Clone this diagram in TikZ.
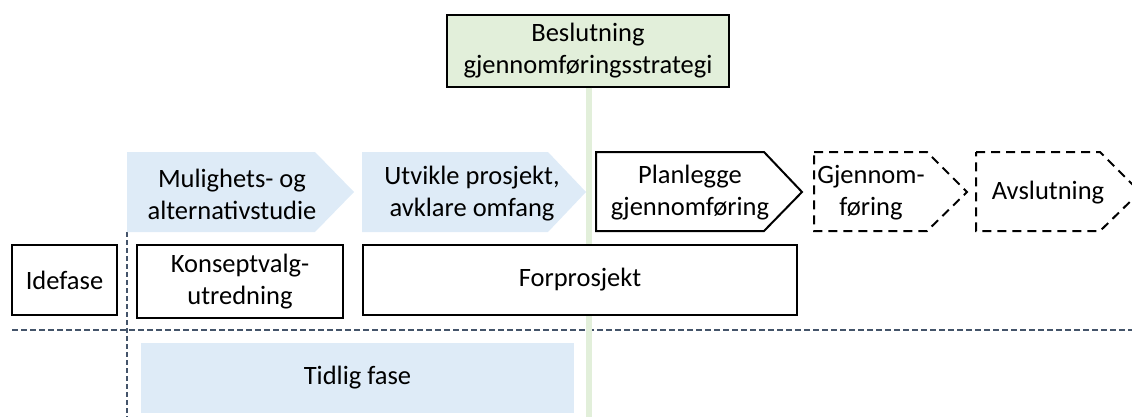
\documentclass[tikz,border=0pt]{standalone}
\usepackage{fontspec}
\setmainfont{Carlito}
\definecolor{phaseblue}{HTML}{DEEBF7}
\definecolor{decgreen}{HTML}{E2EFDA}
\definecolor{slate}{HTML}{44546A}
\tikzset{
  every node/.style={font=\fontsize{26.5}{32}\selectfont, align=center, inner sep=0pt},
  boxline/.style={draw=black, line width=2pt},
  dashline/.style={draw=black, line width=2pt, dash pattern=on 9pt off 6pt},
  phasefill/.style={fill=phaseblue},
  divider/.style={draw=slate, line width=2pt, dash pattern=on 6pt off 3pt},
}
\begin{document}
\begin{tikzpicture}[x=1pt, y=-1pt]
\useasboundingbox (0,0) rectangle (1132,417);

% dashed separator between phases and the early-phase band
\draw[divider] (12,330) -- (1132,330);
\draw[divider, line width=1.6pt, dash pattern=on 5pt off 3pt] (127,232) -- (127,417);

% decision milestone and its vertical marker
\node[boxline, fill=decgreen, minimum width=282pt, minimum height=72pt] (dec) at (588,51)
  {Beslutning\\gjennomføringsstrategi};
\coordinate (decfoot) at (589,417);
\draw[decgreen, line width=6pt] (589,88) -- (decfoot);

% blue process arrows
\fill[phasefill] (127,152) -- (315,152) -- (354,192) -- (315,232) -- (127,232) -- cycle;
\node (mul) at (232,194) {Mulighets- og\\alternativstudie};
\fill[phasefill] (362,152) -- (548,152) -- (586,192) -- (548,232) -- (362,232) -- cycle;
\node (utv) at (472,194) {Utvikle prosjekt,\\avklare omfang};

% execution arrows
\draw[boxline, fill=white, line join=miter] (596,152) -- (764,152) -- (802,192) -- (764,231) -- (596,231) -- cycle;
\node (pla) at (690,193) {Planlegge\\gjennomføring};
\draw[dashline] (814,152) -- (927,152) -- (967,192) -- (927,231) -- (814,231) -- cycle;
\node (gje) at (871,193) {Gjennom-\\føring};
\draw[dashline] (976,152) -- (1100,152) -- (1140,192) -- (1100,231) -- (976,231) -- cycle;
\node (avs) at (1048,193) {Avslutning};

% project phases
\node[boxline, fill=white, minimum width=105pt, minimum height=70pt] (ide) at (64.5,280) {Idefase};
\node[boxline, fill=white, minimum width=206pt, minimum height=73pt] (kon) at (240,281.5) {Konseptvalg-\\utredning};
\node[boxline, fill=white, minimum width=434pt, minimum height=70pt] (for) at (580,280) {Forprosjekt};

% early phase band
\node[phasefill, minimum width=433pt, minimum height=70pt] (tid) at (357.5,378) {Tidlig fase};
\end{tikzpicture}
\end{document}
